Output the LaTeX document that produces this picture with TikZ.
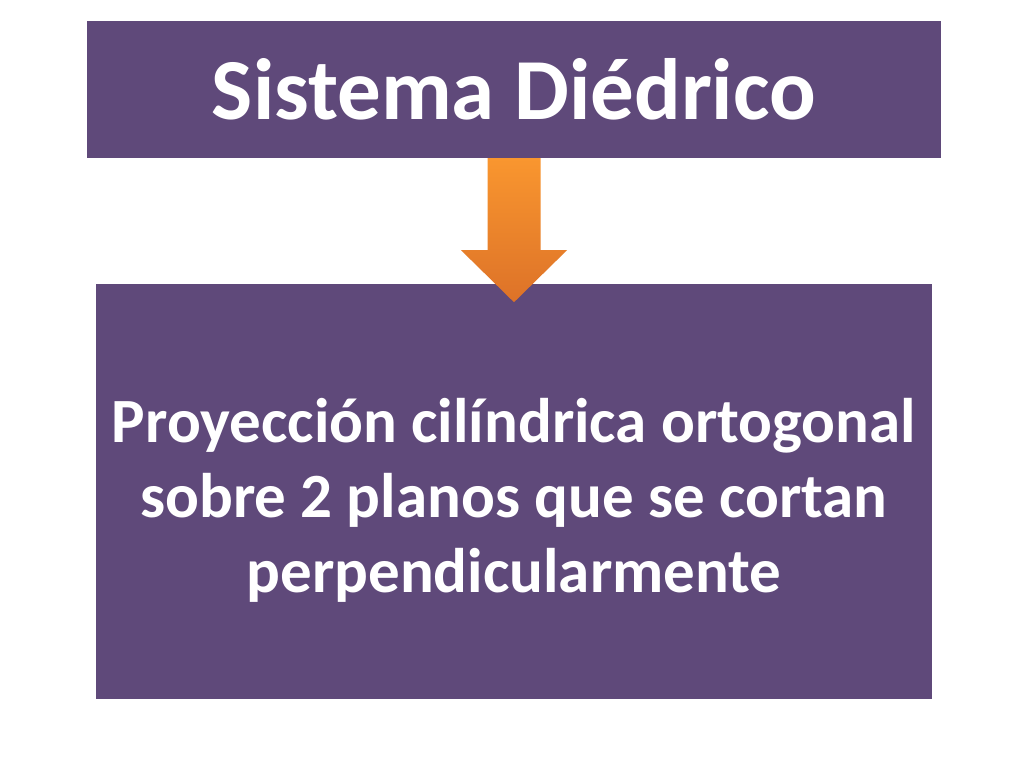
\documentclass[tikz,border=0pt]{standalone}
\usepackage{fontspec}
\setmainfont{Carlito}
\usetikzlibrary{calc}
\definecolor{slidepurple}{HTML}{5F497A}
\definecolor{arrowtop}{HTML}{F9962F}
\definecolor{arrowbot}{HTML}{DD7228}
\tikzset{
	purplebox/.style={fill=slidepurple,draw=none,text=white,font=\bfseries,inner sep=0pt,align=center},
}
\begin{document}
\begin{tikzpicture}[x=1pt,y=1pt]
			\useasboundingbox (0,0) rectangle (1024,768);
			\fill[white] (0,0) rectangle (1024,768);

			\node [purplebox,minimum width=854,minimum height=137,font=\bfseries\fontsize{87}{100}\selectfont] (title) at (514,678.5) {Sistema Diédrico};

			\node [purplebox,minimum width=836,minimum height=415] (body) at (514,276.5) {};
			\node [text=white,align=center,font=\bfseries\fontsize{63}{75}\selectfont] (desc) at (514,268) {Proyección cilíndrica ortogonal\\sobre 2 planos que se cortan\\perpendicularmente};

			\shade [top color=arrowtop,bottom color=arrowbot]
				($(title.south)+(-26.5,0)$) -- ($(title.south)+(26.5,0)$) -- ($(title.south)+(26.5,-92)$)
				-- ($(title.south)+(53,-92)$) -- ($(title.south)+(0,-144)$) -- ($(title.south)+(-53,-92)$)
				-- ($(title.south)+(-26.5,-92)$) -- cycle;
		\end{tikzpicture}
\end{document}
